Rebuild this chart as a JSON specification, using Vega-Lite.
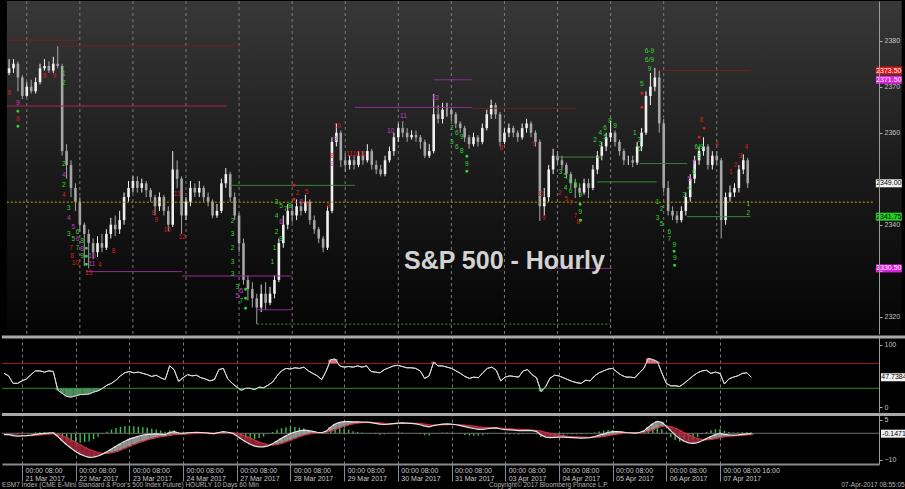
{
"$schema":"https://vega.github.io/schema/vega-lite/v6.json",
"background":"#000000",
"padding":0,
"spacing":0,
"config":{"view":{"stroke":null},"axis":{"labelFont":"Liberation Sans","labelColor":"#c4c4c4","tickColor":"#b0b0b0","domainColor":"#9a9a9a","labelFontSize":7,"titleFont":"Liberation Sans"},"text":{"font":"Liberation Sans"}},
"datasets":{
"px":[
{"t":-8,"o":2373,"h":2376,"l":2372.5,"c":2374,"r":54,"m":-0.5,"s":-0.4,"d":-0.1},
{"t":-6,"o":2374,"h":2376,"l":2373,"c":2375,"r":50,"m":-0.5,"s":-0.45,"d":-0.05},
{"t":-4,"o":2375,"h":2375.5,"l":2369,"c":2372,"r":38,"m":-0.9,"s":-0.55,"d":-0.35},
{"t":-2,"o":2372,"h":2372.5,"l":2367.3,"c":2368,"r":38,"m":-1.1,"s":-0.7,"d":-0.4},
{"t":0,"o":2368,"h":2371,"l":2367.8,"c":2370,"r":42,"m":-1.0,"s":-0.8,"d":-0.2},
{"t":2,"o":2370,"h":2371.5,"l":2368.5,"c":2369,"r":45,"m":-0.9,"s":-0.85,"d":-0.05},
{"t":4,"o":2369,"h":2372,"l":2368.5,"c":2371,"r":52,"m":-0.7,"s":-0.85,"d":0.15},
{"t":6,"o":2371,"h":2375,"l":2370.5,"c":2374,"r":58,"m":-0.4,"s":-0.75,"d":0.35},
{"t":8,"o":2374,"h":2376,"l":2373.5,"c":2374.5,"r":58,"m":-0.2,"s":-0.6,"d":0.4},
{"t":10,"o":2374.5,"h":2375.5,"l":2373,"c":2373.5,"r":56,"m":-0.05,"s":-0.45,"d":0.4},
{"t":12,"o":2373.5,"h":2376.5,"l":2373,"c":2375,"r":58,"m":0.1,"s":-0.3,"d":0.4},
{"t":14,"o":2375,"h":2378.8,"l":2374,"c":2374.5,"r":57,"m":0.2,"s":-0.15,"d":0.35},
{"t":16,"o":2374.5,"h":2375,"l":2355,"c":2356,"r":27,"m":-1.2,"s":-0.4,"d":-0.8},
{"t":18,"o":2356,"h":2357.5,"l":2350,"c":2353,"r":22,"m":-2.8,"s":-0.9,"d":-1.9},
{"t":20,"o":2353,"h":2354,"l":2346,"c":2348,"r":17,"m":-4.3,"s":-1.6,"d":-2.7},
{"t":22,"o":2348,"h":2349,"l":2343,"c":2345,"r":16,"m":-5.6,"s":-2.5,"d":-3.1},
{"t":24,"o":2345,"h":2346,"l":2338.5,"c":2340,"r":18,"m":-6.8,"s":-3.4,"d":-3.4},
{"t":26,"o":2340,"h":2340.5,"l":2331,"c":2338,"r":20,"m":-7.8,"s":-4.3,"d":-3.5},
{"t":28,"o":2338,"h":2339,"l":2330.5,"c":2336,"r":20,"m":-8.5,"s":-5.2,"d":-3.3},
{"t":30,"o":2336,"h":2337,"l":2332.5,"c":2334,"r":21,"m":-9.0,"s":-6.0,"d":-3.0},
{"t":32,"o":2334,"h":2337.5,"l":2333,"c":2336,"r":24,"m":-8.9,"s":-6.7,"d":-2.2},
{"t":34,"o":2336,"h":2338,"l":2334,"c":2335,"r":26,"m":-8.5,"s":-7.2,"d":-1.3},
{"t":36,"o":2335,"h":2339,"l":2334.5,"c":2338,"r":30,"m":-7.8,"s":-7.5,"d":-0.3},
{"t":38,"o":2338,"h":2341.5,"l":2337,"c":2340,"r":35,"m":-6.9,"s":-7.5,"d":0.6},
{"t":40,"o":2340,"h":2342,"l":2337.5,"c":2339,"r":38,"m":-5.9,"s":-7.3,"d":1.4},
{"t":42,"o":2339,"h":2343,"l":2338,"c":2341,"r":43,"m":-4.9,"s":-6.9,"d":2.0},
{"t":44,"o":2341,"h":2347,"l":2340,"c":2346,"r":50,"m":-3.9,"s":-6.3,"d":2.4},
{"t":46,"o":2346,"h":2349.5,"l":2345,"c":2348,"r":55,"m":-3.0,"s":-5.6,"d":2.6},
{"t":48,"o":2348,"h":2350.5,"l":2347,"c":2349.5,"r":57,"m":-2.2,"s":-4.9,"d":2.7},
{"t":50,"o":2349.5,"h":2350.5,"l":2347,"c":2348,"r":55,"m":-1.6,"s":-4.2,"d":2.6},
{"t":52,"o":2348,"h":2350,"l":2347,"c":2349,"r":56,"m":-1.1,"s":-3.6,"d":2.5},
{"t":54,"o":2349,"h":2349.5,"l":2346,"c":2347.5,"r":54,"m":-0.7,"s":-3.0,"d":2.3},
{"t":56,"o":2347.5,"h":2348,"l":2345,"c":2346,"r":52,"m":-0.4,"s":-2.5,"d":2.1},
{"t":58,"o":2346,"h":2346.5,"l":2342,"c":2344,"r":49,"m":-0.3,"s":-2.0,"d":1.7},
{"t":60,"o":2344,"h":2347,"l":2343,"c":2346,"r":51,"m":-0.2,"s":-1.6,"d":1.4},
{"t":62,"o":2346,"h":2346.5,"l":2342,"c":2343,"r":47,"m":-0.3,"s":-1.3,"d":1.0},
{"t":64,"o":2343,"h":2344,"l":2338.6,"c":2340,"r":44,"m":-0.5,"s":-1.1,"d":0.6},
{"t":66,"o":2340,"h":2356,"l":2339.5,"c":2352,"r":66,"m":0.3,"s":-0.8,"d":1.1},
{"t":68,"o":2352,"h":2354,"l":2348,"c":2350,"r":60,"m":0.6,"s":-0.5,"d":1.1},
{"t":70,"o":2350,"h":2350.5,"l":2338,"c":2342,"r":41,"m":0.1,"s":-0.4,"d":0.5},
{"t":72,"o":2342,"h":2346,"l":2341,"c":2345,"r":47,"m":0.0,"s":-0.3,"d":0.3},
{"t":74,"o":2345,"h":2349.5,"l":2344,"c":2348,"r":52,"m":0.2,"s":-0.2,"d":0.4},
{"t":76,"o":2348,"h":2349,"l":2346,"c":2347,"r":50,"m":0.3,"s":-0.1,"d":0.4},
{"t":78,"o":2347,"h":2349.5,"l":2346,"c":2348,"r":51,"m":0.35,"s":0.0,"d":0.35},
{"t":80,"o":2348,"h":2348.5,"l":2345,"c":2346,"r":47,"m":0.3,"s":0.1,"d":0.2},
{"t":82,"o":2346,"h":2347,"l":2344,"c":2345,"r":45,"m":0.2,"s":0.15,"d":0.05},
{"t":84,"o":2345,"h":2345.5,"l":2341.4,"c":2342,"r":42,"m":0.0,"s":0.15,"d":-0.15},
{"t":86,"o":2342,"h":2344.5,"l":2341.5,"c":2343,"r":44,"m":-0.1,"s":0.1,"d":-0.2},
{"t":88,"o":2343,"h":2350,"l":2342.5,"c":2349,"r":60,"m":0.3,"s":0.1,"d":0.2},
{"t":90,"o":2349,"h":2352.3,"l":2348,"c":2351,"r":62,"m":0.6,"s":0.2,"d":0.4},
{"t":92,"o":2351,"h":2351.5,"l":2345,"c":2346,"r":45,"m":0.4,"s":0.3,"d":0.1},
{"t":94,"o":2346,"h":2347,"l":2341,"c":2342,"r":38,"m":0.0,"s":0.3,"d":-0.3},
{"t":96,"o":2342,"h":2342.5,"l":2334,"c":2336,"r":32,"m":-0.9,"s":0.0,"d":-0.9},
{"t":98,"o":2336,"h":2337,"l":2327,"c":2328,"r":27,"m":-2.1,"s":-0.5,"d":-1.6},
{"t":100,"o":2328,"h":2329,"l":2323.5,"c":2326,"r":30,"m":-3.2,"s":-1.1,"d":-2.1},
{"t":102,"o":2326,"h":2327.5,"l":2322,"c":2324,"r":30,"m":-4.1,"s":-1.8,"d":-2.3},
{"t":104,"o":2324,"h":2325,"l":2318.4,"c":2322,"r":28,"m":-4.8,"s":-2.6,"d":-2.2},
{"t":106,"o":2322,"h":2327,"l":2321,"c":2325,"r":32,"m":-5.1,"s":-3.3,"d":-1.8},
{"t":108,"o":2325,"h":2327.5,"l":2321.5,"c":2323,"r":31,"m":-5.1,"s":-3.9,"d":-1.2},
{"t":110,"o":2323,"h":2326.5,"l":2322.5,"c":2325,"r":35,"m":-4.7,"s":-4.3,"d":-0.4},
{"t":112,"o":2325,"h":2329,"l":2324,"c":2328,"r":40,"m":-3.9,"s":-4.4,"d":0.5},
{"t":114,"o":2328,"h":2337,"l":2327.5,"c":2336,"r":50,"m":-2.9,"s":-4.2,"d":1.3},
{"t":116,"o":2336,"h":2342,"l":2335,"c":2340,"r":58,"m":-1.9,"s":-3.8,"d":1.9},
{"t":118,"o":2340,"h":2344.5,"l":2339,"c":2343,"r":62,"m":-0.9,"s":-3.2,"d":2.3},
{"t":120,"o":2343,"h":2344.5,"l":2340.5,"c":2342,"r":61,"m":-0.1,"s":-2.6,"d":2.5},
{"t":122,"o":2342,"h":2345.5,"l":2341,"c":2344,"r":63,"m":0.5,"s":-1.9,"d":2.4},
{"t":124,"o":2344,"h":2345,"l":2342,"c":2343,"r":62,"m":0.9,"s":-1.3,"d":2.2},
{"t":126,"o":2343,"h":2346.5,"l":2342.5,"c":2345,"r":64,"m":1.2,"s":-0.7,"d":1.9},
{"t":128,"o":2345,"h":2345.5,"l":2340,"c":2341,"r":58,"m":1.0,"s":-0.3,"d":1.3},
{"t":130,"o":2341,"h":2342,"l":2338,"c":2339,"r":54,"m":0.7,"s":0.0,"d":0.7},
{"t":132,"o":2339,"h":2339.5,"l":2336,"c":2337,"r":50,"m":0.4,"s":0.2,"d":0.2},
{"t":134,"o":2337,"h":2337.5,"l":2334,"c":2335,"r":44,"m":0.2,"s":0.3,"d":-0.1},
{"t":136,"o":2335,"h":2344,"l":2334.5,"c":2343,"r":58,"m":0.8,"s":0.4,"d":0.4},
{"t":138,"o":2343,"h":2359,"l":2342.5,"c":2358,"r":76,"m":2.3,"s":0.8,"d":1.5},
{"t":140,"o":2358,"h":2362,"l":2357,"c":2360,"r":77,"m":3.5,"s":1.4,"d":2.1},
{"t":142,"o":2360,"h":2360.5,"l":2352.5,"c":2354,"r":66,"m":4.1,"s":2.0,"d":2.1},
{"t":144,"o":2354,"h":2355.5,"l":2351.5,"c":2353,"r":64,"m":4.4,"s":2.6,"d":1.8},
{"t":146,"o":2353,"h":2355,"l":2352,"c":2354,"r":65,"m":4.4,"s":3.1,"d":1.3},
{"t":148,"o":2354,"h":2355,"l":2352,"c":2353,"r":64,"m":4.3,"s":3.5,"d":0.8},
{"t":150,"o":2353,"h":2356,"l":2352.5,"c":2355,"r":66,"m":4.3,"s":3.8,"d":0.5},
{"t":152,"o":2355,"h":2356,"l":2353,"c":2354,"r":64,"m":4.2,"s":4.0,"d":0.2},
{"t":154,"o":2354,"h":2357.5,"l":2353.5,"c":2356,"r":66,"m":4.2,"s":4.1,"d":0.1},
{"t":156,"o":2356,"h":2356.5,"l":2352,"c":2353,"r":57,"m":4.0,"s":4.1,"d":-0.1},
{"t":158,"o":2353,"h":2354,"l":2351,"c":2352,"r":56,"m":3.7,"s":4.0,"d":-0.3},
{"t":160,"o":2352,"h":2353,"l":2350.5,"c":2351,"r":55,"m":3.4,"s":3.9,"d":-0.5},
{"t":162,"o":2351,"h":2355,"l":2350.5,"c":2354,"r":60,"m":3.3,"s":3.7,"d":-0.4},
{"t":164,"o":2354,"h":2357,"l":2353.5,"c":2356,"r":63,"m":3.4,"s":3.6,"d":-0.2},
{"t":166,"o":2356,"h":2360,"l":2355,"c":2359,"r":66,"m":3.6,"s":3.6,"d":0},
{"t":168,"o":2359,"h":2362,"l":2358,"c":2361,"r":67,"m":3.8,"s":3.6,"d":0.2},
{"t":170,"o":2361,"h":2362.5,"l":2359,"c":2360,"r":65,"m":3.9,"s":3.7,"d":0.2},
{"t":172,"o":2360,"h":2361,"l":2358,"c":2359,"r":63,"m":3.8,"s":3.7,"d":0.1},
{"t":174,"o":2359,"h":2360.5,"l":2358.5,"c":2359.5,"r":63,"m":3.7,"s":3.7,"d":0},
{"t":176,"o":2359.5,"h":2360.5,"l":2358,"c":2359,"r":62,"m":3.5,"s":3.7,"d":-0.2},
{"t":178,"o":2359,"h":2359.5,"l":2356.5,"c":2358,"r":58,"m":3.2,"s":3.6,"d":-0.4},
{"t":180,"o":2358,"h":2358.5,"l":2354.5,"c":2355,"r":46,"m":2.7,"s":3.4,"d":-0.7},
{"t":182,"o":2355,"h":2357.5,"l":2354.5,"c":2356,"r":50,"m":2.4,"s":3.2,"d":-0.8},
{"t":184,"o":2356,"h":2368.4,"l":2355.5,"c":2364,"r":72,"m":2.9,"s":3.1,"d":-0.2},
{"t":186,"o":2364,"h":2366,"l":2362,"c":2363,"r":66,"m":3.2,"s":3.1,"d":0.1},
{"t":188,"o":2363,"h":2366.5,"l":2362,"c":2365,"r":66,"m":3.4,"s":3.1,"d":0.3},
{"t":190,"o":2365,"h":2366.5,"l":2363.5,"c":2365,"r":64,"m":3.5,"s":3.2,"d":0.3},
{"t":192,"o":2365,"h":2365.5,"l":2362.5,"c":2364,"r":62,"m":3.4,"s":3.3,"d":0.1},
{"t":194,"o":2364,"h":2364.5,"l":2361,"c":2362,"r":58,"m":3.2,"s":3.3,"d":-0.1},
{"t":196,"o":2362,"h":2362.5,"l":2360,"c":2361,"r":54,"m":2.9,"s":3.2,"d":-0.3},
{"t":198,"o":2361,"h":2361.5,"l":2358,"c":2359,"r":49,"m":2.5,"s":3.1,"d":-0.6},
{"t":200,"o":2359,"h":2359.5,"l":2356.5,"c":2357.5,"r":46,"m":2.1,"s":2.9,"d":-0.8},
{"t":202,"o":2357.5,"h":2360,"l":2357,"c":2359,"r":48,"m":1.8,"s":2.7,"d":-0.9},
{"t":204,"o":2359,"h":2359.5,"l":2357,"c":2358,"r":47,"m":1.5,"s":2.4,"d":-0.9},
{"t":206,"o":2358,"h":2362,"l":2357.5,"c":2361,"r":55,"m":1.5,"s":2.2,"d":-0.7},
{"t":208,"o":2361,"h":2365,"l":2360.5,"c":2364,"r":62,"m":1.7,"s":2.1,"d":-0.4},
{"t":210,"o":2364,"h":2367.2,"l":2363,"c":2366,"r":64,"m":1.9,"s":2.0,"d":-0.1},
{"t":212,"o":2366,"h":2366.5,"l":2363,"c":2364,"r":59,"m":2.0,"s":2.0,"d":0},
{"t":214,"o":2364,"h":2364.5,"l":2357,"c":2358,"r":42,"m":1.6,"s":1.9,"d":-0.3},
{"t":216,"o":2358,"h":2361,"l":2357.5,"c":2360,"r":48,"m":1.4,"s":1.8,"d":-0.4},
{"t":218,"o":2360,"h":2362,"l":2359,"c":2361,"r":50,"m":1.3,"s":1.7,"d":-0.4},
{"t":220,"o":2361,"h":2361.5,"l":2359,"c":2360,"r":49,"m":1.2,"s":1.6,"d":-0.4},
{"t":222,"o":2360,"h":2360.5,"l":2358,"c":2359,"r":48,"m":1.0,"s":1.5,"d":-0.5},
{"t":224,"o":2359,"h":2362,"l":2358.5,"c":2361,"r":58,"m":1.0,"s":1.4,"d":-0.4},
{"t":226,"o":2361,"h":2363,"l":2360,"c":2362,"r":60,"m":1.1,"s":1.3,"d":-0.2},
{"t":228,"o":2362,"h":2362.5,"l":2359,"c":2360,"r":52,"m":1.0,"s":1.2,"d":-0.2},
{"t":230,"o":2360,"h":2360.5,"l":2357,"c":2358,"r":47,"m":0.7,"s":1.1,"d":-0.4},
{"t":232,"o":2358,"h":2358.5,"l":2340.8,"c":2344,"r":25,"m":-0.6,"s":0.8,"d":-1.4},
{"t":234,"o":2344,"h":2348,"l":2342,"c":2346,"r":32,"m":-1.4,"s":0.4,"d":-1.8},
{"t":236,"o":2346,"h":2353,"l":2345,"c":2352,"r":46,"m":-1.6,"s":0.0,"d":-1.6},
{"t":238,"o":2352,"h":2356.5,"l":2351,"c":2355,"r":51,"m":-1.5,"s":-0.4,"d":-1.1},
{"t":240,"o":2355,"h":2356,"l":2353,"c":2354,"r":50,"m":-1.4,"s":-0.7,"d":-0.7},
{"t":242,"o":2354,"h":2355,"l":2352,"c":2353,"r":47,"m":-1.4,"s":-0.9,"d":-0.5},
{"t":244,"o":2353,"h":2353.5,"l":2350,"c":2351,"r":44,"m":-1.5,"s":-1.1,"d":-0.4},
{"t":246,"o":2351,"h":2351.5,"l":2348,"c":2349,"r":41,"m":-1.6,"s":-1.2,"d":-0.4},
{"t":248,"o":2349,"h":2350,"l":2345.8,"c":2348,"r":39,"m":-1.7,"s":-1.3,"d":-0.4},
{"t":250,"o":2348,"h":2349,"l":2346,"c":2347,"r":38,"m":-1.8,"s":-1.4,"d":-0.4},
{"t":252,"o":2347,"h":2350,"l":2346.5,"c":2349,"r":43,"m":-1.7,"s":-1.5,"d":-0.2},
{"t":254,"o":2349,"h":2350,"l":2345.8,"c":2348,"r":42,"m":-1.6,"s":-1.5,"d":-0.1},
{"t":256,"o":2348,"h":2353,"l":2347.5,"c":2352,"r":50,"m":-1.2,"s":-1.5,"d":0.3},
{"t":258,"o":2352,"h":2356,"l":2351,"c":2355,"r":55,"m":-0.7,"s":-1.4,"d":0.7},
{"t":260,"o":2355,"h":2358,"l":2354,"c":2357,"r":58,"m":-0.2,"s":-1.2,"d":1.0},
{"t":262,"o":2357,"h":2360,"l":2356,"c":2359,"r":61,"m":0.3,"s":-0.9,"d":1.2},
{"t":264,"o":2359,"h":2362.5,"l":2358,"c":2360,"r":62,"m":0.6,"s":-0.6,"d":1.2},
{"t":266,"o":2360,"h":2360.5,"l":2357,"c":2358,"r":56,"m":0.6,"s":-0.3,"d":0.9},
{"t":268,"o":2358,"h":2358.5,"l":2355,"c":2356,"r":51,"m":0.5,"s":-0.1,"d":0.6},
{"t":270,"o":2356,"h":2356.5,"l":2353,"c":2354,"r":48,"m":0.3,"s":0.1,"d":0.2},
{"t":272,"o":2354,"h":2355,"l":2353,"c":2354,"r":48,"m":0.2,"s":0.2,"d":0},
{"t":274,"o":2354,"h":2355,"l":2352.5,"c":2353.5,"r":47,"m":0.1,"s":0.2,"d":-0.1},
{"t":276,"o":2353.5,"h":2358,"l":2353,"c":2357,"r":55,"m":0.3,"s":0.2,"d":0.1},
{"t":278,"o":2357,"h":2361,"l":2356,"c":2360,"r":62,"m":0.9,"s":0.3,"d":0.6},
{"t":280,"o":2360,"h":2369,"l":2359.5,"c":2368,"r":78,"m":2.3,"s":0.7,"d":1.6},
{"t":282,"o":2368,"h":2373,"l":2366,"c":2370,"r":76,"m":3.6,"s":1.3,"d":2.3},
{"t":284,"o":2370,"h":2374.1,"l":2369,"c":2372,"r":73,"m":4.5,"s":2.0,"d":2.5},
{"t":286,"o":2372,"h":2373.5,"l":2360,"c":2362,"r":55,"m":4.1,"s":2.6,"d":1.5},
{"t":288,"o":2362,"h":2363,"l":2347,"c":2348,"r":38,"m":2.7,"s":2.8,"d":-0.1},
{"t":290,"o":2348,"h":2349.5,"l":2342,"c":2343,"r":34,"m":1.0,"s":2.5,"d":-1.5},
{"t":292,"o":2343,"h":2344,"l":2341,"c":2342,"r":34,"m":-0.6,"s":1.9,"d":-2.5},
{"t":294,"o":2342,"h":2343,"l":2340.3,"c":2341,"r":33,"m":-2.0,"s":1.1,"d":-3.1},
{"t":296,"o":2341,"h":2344,"l":2340.5,"c":2343,"r":38,"m":-3.0,"s":0.2,"d":-3.2},
{"t":298,"o":2343,"h":2347,"l":2342,"c":2346,"r":44,"m":-3.6,"s":-0.6,"d":-3.0},
{"t":300,"o":2346,"h":2351,"l":2345,"c":2350,"r":50,"m":-3.8,"s":-1.4,"d":-2.4},
{"t":302,"o":2350,"h":2355,"l":2349,"c":2354,"r":55,"m":-3.5,"s":-2.0,"d":-1.5},
{"t":304,"o":2354,"h":2357,"l":2353,"c":2356,"r":58,"m":-2.8,"s":-2.4,"d":-0.4},
{"t":306,"o":2356,"h":2359,"l":2355,"c":2357,"r":59,"m":-2.0,"s":-2.5,"d":0.5},
{"t":308,"o":2357,"h":2357.5,"l":2352,"c":2353,"r":54,"m":-1.2,"s":-2.3,"d":1.1},
{"t":310,"o":2353,"h":2356,"l":2352,"c":2355,"r":56,"m":-0.5,"s":-2.0,"d":1.5},
{"t":312,"o":2355,"h":2356,"l":2353,"c":2354,"r":54,"m":0.0,"s":-1.6,"d":1.6},
{"t":314,"o":2354,"h":2354.5,"l":2337,"c":2341,"r":37,"m":-0.4,"s":-1.3,"d":0.9},
{"t":316,"o":2341,"h":2347,"l":2340,"c":2346,"r":45,"m":-0.6,"s":-1.1,"d":0.5},
{"t":318,"o":2346,"h":2348.5,"l":2345,"c":2347,"r":48,"m":-0.7,"s":-1.0,"d":0.3},
{"t":320,"o":2347,"h":2349,"l":2346,"c":2348,"r":50,"m":-0.6,"s":-0.9,"d":0.3},
{"t":322,"o":2348,"h":2353,"l":2347,"c":2352,"r":54,"m":-0.4,"s":-0.8,"d":0.4},
{"t":324,"o":2352,"h":2355.3,"l":2351,"c":2354,"r":55,"m":-0.2,"s":-0.6,"d":0.4},
{"t":326,"o":2354,"h":2354.5,"l":2348,"c":2349,"r":47.7,"m":-0.15,"s":-0.5,"d":0.35}
],
"lv":[
{"t1":-9,"t2":23.7,"p":2380.1,"k":"dkred","st":"solid"},
{"t1":14.8,"t2":97,"p":2378.85,"k":"dkred","st":"solid"},
{"t1":-9,"t2":90.3,"p":2365.8,"k":"red","st":"solid"},
{"t1":92,"t2":148.4,"p":2348.55,"k":"green","st":"solid"},
{"t1":26.8,"t2":70.2,"p":2329.8,"k":"magenta","st":"solid"},
{"t1":70.2,"t2":119.8,"p":2328.85,"k":"magenta","st":"solid"},
{"t1":103.7,"t2":119.8,"p":2321.5,"k":"magenta","st":"solid"},
{"t1":104.2,"t2":263.7,"p":2318.4,"k":"green","st":"dot"},
{"t1":-9,"t2":383,"p":2344.9,"k":"yellow","st":"dot"},
{"t1":148.4,"t2":201.2,"p":2365.5,"k":"magenta","st":"solid"},
{"t1":201.2,"t2":248.1,"p":2365.3,"k":"dkred","st":"solid"},
{"t1":184.2,"t2":201.2,"p":2371.5,"k":"magenta","st":"solid"},
{"t1":285.2,"t2":327.2,"p":2373.5,"k":"dkred","st":"solid"},
{"t1":239.2,"t2":260.2,"p":2354.7,"k":"green","st":"solid"},
{"t1":277.2,"t2":298.6,"p":2353.3,"k":"green","st":"solid"},
{"t1":257.9,"t2":284.8,"p":2349.3,"k":"green","st":"solid"},
{"t1":298.6,"t2":327.2,"p":2341.75,"k":"green","st":"solid"},
{"t1":239.2,"t2":264.6,"p":2330.5,"k":"magenta","st":"solid"}
],
"td":[
{"t":-8,"p":2368.6,"x":"9","k":"r"},{"t":-4,"p":2366.4,"x":"9","k":"m"},{"t":-4,"p":2364.7,"x":"●","k":"g"},{"t":-4,"p":2363,"x":"8","k":"r"},{"t":-4,"p":2361.4,"x":"●","k":"g"},
{"t":8,"p":2372.3,"x":"8","k":"r"},{"t":12.5,"p":2372.3,"x":"9","k":"r"},{"t":16.8,"p":2372.8,"x":"1","k":"g"},{"t":16.8,"p":2370.8,"x":"2","k":"g"},
{"t":16.8,"p":2353.2,"x":"2","k":"g"},{"t":16.8,"p":2350.8,"x":"4","k":"m"},{"t":16.8,"p":2348.6,"x":"2","k":"g"},{"t":16.8,"p":2346.5,"x":"4","k":"r"},
{"t":19,"p":2343.6,"x":"3","k":"g"},{"t":19,"p":2341.5,"x":"4","k":"m"},{"t":21,"p":2339.5,"x":"5","k":"m"},{"t":19,"p":2338,"x":"3","k":"g"},{"t":21,"p":2337,"x":"5","k":"g"},
{"t":23,"p":2338.5,"x":"6","k":"g"},{"t":23,"p":2336.9,"x":"6","k":"m"},{"t":20,"p":2335,"x":"7","k":"r"},{"t":23,"p":2335,"x":"7","k":"g"},{"t":25,"p":2336.5,"x":"8","k":"g"},
{"t":25,"p":2334.8,"x":"8","k":"m"},{"t":20.5,"p":2333.2,"x":"8","k":"r"},{"t":25,"p":2333.3,"x":"9","k":"g"},{"t":22,"p":2331.6,"x":"10","k":"r"},
{"t":27,"p":2335,"x":"●","k":"g"},{"t":27,"p":2333.2,"x":"●","k":"g"},{"t":27,"p":2331.4,"x":"●","k":"g"},{"t":29.5,"p":2333.3,"x":"10","k":"m"},{"t":29.5,"p":2331.5,"x":"11","k":"m"},
{"t":28,"p":2329.4,"x":"13","k":"r"},{"t":33,"p":2331.2,"x":"4","k":"r"},{"t":39.3,"p":2334.3,"x":"8","k":"r"},{"t":57.2,"p":2342.5,"x":"8","k":"r"},{"t":58.6,"p":2341,"x":"9","k":"r"},
{"t":63.5,"p":2338.9,"x":"10","k":"r"},{"t":68,"p":2346.7,"x":"11","k":"r"},{"t":70.2,"p":2337.3,"x":"12","k":"r"},
{"t":93,"p":2340.8,"x":"2","k":"g"},{"t":93,"p":2338,"x":"3","k":"g"},{"t":93,"p":2335,"x":"2","k":"g"},{"t":93,"p":2332,"x":"3","k":"g"},{"t":93,"p":2329.3,"x":"3","k":"g"},
{"t":95.2,"p":2326.5,"x":"3","k":"g"},{"t":97,"p":2325.5,"x":"5","k":"m"},{"t":99,"p":2326,"x":"●","k":"g"},{"t":95.2,"p":2324.5,"x":"5","k":"m"},{"t":97,"p":2323.5,"x":"7","k":"g"},
{"t":99,"p":2324,"x":"●","k":"g"},{"t":99,"p":2322,"x":"●","k":"g"},
{"t":113,"p":2345,"x":"3","k":"g"},{"t":115,"p":2344,"x":"5","k":"g"},{"t":117,"p":2343.5,"x":"7","k":"g"},{"t":119,"p":2344,"x":"8","k":"g"},{"t":113,"p":2342,"x":"4","k":"g"},
{"t":115,"p":2340.5,"x":"6","k":"m"},{"t":113,"p":2338.5,"x":"2","k":"g"},{"t":112,"p":2335,"x":"1","k":"g"},{"t":111,"p":2332,"x":"1","k":"g"},{"t":115,"p":2337,"x":"9","k":"g"},
{"t":120.7,"p":2348.6,"x":"●","k":"r"},{"t":120.7,"p":2345.6,"x":"●","k":"r"},{"t":122.5,"p":2347,"x":"2","k":"r"},{"t":126.5,"p":2347.2,"x":"5","k":"r"},{"t":124,"p":2345,"x":"8","k":"m"},
{"t":127,"p":2344.4,"x":"9","k":"r"},{"t":136.3,"p":2344,"x":"9","k":"r"},{"t":138.1,"p":2353.2,"x":"9","k":"m"},{"t":138.1,"p":2354.9,"x":"8","k":"r"},{"t":139.5,"p":2358.6,"x":"9","k":"m"},
{"t":140.4,"p":2361.5,"x":"10","k":"r"},{"t":149,"p":2355.4,"x":"111011","k":"r"},{"t":164.5,"p":2360.4,"x":"10","k":"m"},{"t":170.3,"p":2363.6,"x":"11","k":"m"},{"t":184.6,"p":2367.5,"x":"13","k":"m"},
{"t":192.2,"p":2361,"x":"2","k":"g"},{"t":194.5,"p":2360,"x":"6","k":"g"},{"t":196.7,"p":2359,"x":"9","k":"g"},{"t":192.2,"p":2358,"x":"3","k":"g"},{"t":194.5,"p":2357,"x":"6","k":"g"},
{"t":196.7,"p":2356,"x":"8","k":"g"},{"t":199,"p":2355,"x":"●","k":"g"},{"t":199,"p":2353.3,"x":"9","k":"g"},{"t":199,"p":2351.7,"x":"●","k":"g"},
{"t":214.6,"p":2356.7,"x":"8","k":"r"},{"t":229.3,"p":2357.5,"x":"9","k":"r"},{"t":232.4,"p":2346.7,"x":"8","k":"r"},{"t":233.8,"p":2341.5,"x":"9","k":"r"},
{"t":241,"p":2347,"x":"2","k":"r"},{"t":244,"p":2345.5,"x":"5","k":"r"},{"t":246,"p":2344.8,"x":"7","k":"r"},{"t":248,"p":2342,"x":"7","k":"r"},{"t":249.4,"p":2340.5,"x":"8","k":"r"},
{"t":241.4,"p":2351.5,"x":"3","k":"g"},{"t":243.6,"p":2350.5,"x":"5","k":"g"},{"t":245.9,"p":2349.5,"x":"6","k":"g"},{"t":248.1,"p":2348.6,"x":"8","k":"g"},{"t":243.6,"p":2348,"x":"4","k":"g"},
{"t":245.9,"p":2347.3,"x":"6","k":"g"},{"t":250.3,"p":2346.5,"x":"9","k":"g"},{"t":250.3,"p":2344.5,"x":"●","k":"g"},{"t":250.3,"p":2342.7,"x":"9","k":"g"},{"t":250.5,"p":2341,"x":"●","k":"g"},
{"t":257,"p":2358.5,"x":"2","k":"g"},{"t":259.3,"p":2360,"x":"4","k":"g"},{"t":261.5,"p":2361,"x":"6","k":"g"},{"t":263.7,"p":2362.5,"x":"8","k":"g"},{"t":266,"p":2361.5,"x":"9","k":"g"},
{"t":259.3,"p":2357.5,"x":"3","k":"g"},{"t":261.5,"p":2359,"x":"5","k":"g"},{"t":275,"p":2360,"x":"1","k":"g"},{"t":277,"p":2358.5,"x":"3","k":"g"},{"t":277,"p":2356.5,"x":"5","k":"g"},
{"t":278.1,"p":2370.5,"x":"5","k":"g"},{"t":278.1,"p":2368.6,"x":"●","k":"r"},{"t":278.1,"p":2365.6,"x":"●","k":"r"},{"t":281.6,"p":2377.8,"x":"6-9","k":"g"},{"t":281.6,"p":2375.8,"x":"6/9","k":"g"},
{"t":281.6,"p":2373.8,"x":"9","k":"g"},{"t":285.2,"p":2345,"x":"1","k":"g"},{"t":287,"p":2343.5,"x":"2","k":"g"},{"t":285.2,"p":2341.5,"x":"3","k":"g"},{"t":287,"p":2340.2,"x":"5","k":"g"},
{"t":290.6,"p":2338.5,"x":"6","k":"g"},{"t":290.6,"p":2337,"x":"7","k":"g"},{"t":292.8,"p":2335.5,"x":"9","k":"g"},{"t":292.8,"p":2334.2,"x":"●","k":"g"},{"t":293,"p":2332.8,"x":"9","k":"g"},
{"t":293,"p":2331.3,"x":"●","k":"g"},{"t":297.3,"p":2346.5,"x":"3","k":"g"},{"t":299.5,"p":2348,"x":"4","k":"g"},{"t":299.5,"p":2350,"x":"5","k":"m"},{"t":301.7,"p":2351.5,"x":"6","k":"g"},
{"t":301.7,"p":2353.5,"x":"7","k":"m"},{"t":304,"p":2355,"x":"9","k":"g"},{"t":304,"p":2357,"x":"6/9","k":"g"},{"t":304,"p":2359,"x":"●","k":"r"},{"t":306.2,"p":2361,"x":"●","k":"r"},
{"t":305,"p":2362.8,"x":"8","k":"r"},{"t":312,"p":2357.5,"x":"4","k":"r"},{"t":318.3,"p":2351.5,"x":"1","k":"r"},{"t":320.5,"p":2353,"x":"2","k":"r"},{"t":322.7,"p":2355,"x":"3","k":"r"},
{"t":325.4,"p":2357,"x":"4","k":"r"},{"t":326.3,"p":2344.5,"x":"1","k":"g"},{"t":326.3,"p":2342.5,"x":"2","k":"g"}
],
"tags":[
{"p":2373.5,"txt":"2373.50","k":"red"},
{"p":2371.5,"txt":"2371.50","k":"magenta"},
{"p":2349.0,"txt":"2349.00","k":"white"},
{"p":2341.75,"txt":"2341.75","k":"green"},
{"p":2330.5,"txt":"2330.50","k":"magenta"}
],
"ttl":[{"t":216,"p":2330.4,"txt":"S&P 500 - Hourly"}],
"bg":[{"a":-9,"b":395.6,"top":2388.63,"bot":2316.24}],
"days":[{"t":0},{"t":24},{"t":48},{"t":72},{"t":96},{"t":120},{"t":144},{"t":168},{"t":192},{"t":216},{"t":240},{"t":264},{"t":288},{"t":312}],
"rl":[{"v":70,"k":"ob"},{"v":30,"k":"os"}],
"rtag":[{"v":47.7384,"txt":"47.7384","a":389.8}],
"mtag":[{"v":-0.1471,"txt":"-0.1471","a":389.8}],
"sepr":[{"a":-9,"b":395.6,"v":112.4}],
"sepm":[{"a":-9,"b":395.6,"v":7.04}],
"zero":[{"v":0}],
"f1":[{"t":-8.9,"txt":"ESM7 Index (CME E-Mini Standard & Poor's 500 Index Future) HOURLY 10 Days 60 Min"}],
"f2":[{"t":208.8,"txt":"Copyright© 2017 Bloomberg Finance L.P."}],
"f3":[{"t":394.6,"txt":"07-Apr-2017 08:55:05"}]
},
"vconcat":[
{
"width":877,"height":333,
"view":{"stroke":null},
"resolve":{"scale":{"color":"independent"}},
"layer":[
{"data":{"name":"bg"},"mark":{"type":"rect","clip":false,"color":{"gradient":"linear","x1":0,"y1":0,"x2":0,"y2":1,"stops":[{"offset":0,"color":"#383838"},{"offset":0.5,"color":"#1b1b1b"},{"offset":1,"color":"#040404"}]}},
"encoding":{"x":{"field":"a","type":"quantitative","scale":{"domain":[-8.94,383.1],"nice":false,"zero":false},"axis":null},"x2":{"field":"b"},
"y":{"field":"top","type":"quantitative","scale":{"domain":[2316.24,2388.63],"nice":false,"zero":false},"axis":{"orient":"right","zindex":1,"values":[2320,2325,2330,2335,2340,2345,2350,2355,2360,2365,2370,2375,2380,2385],"labelExpr":"datum.value % 10 === 0 && datum.value != 2330 && datum.value != 2350 ? datum.label : ''","format":"d","tickSize":3,"labelPadding":2,"grid":false,"title":null,"domainColor":"#9a9a9a"}},"y2":{"field":"bot"}}},
{"data":{"name":"days"},"mark":{"type":"rule","strokeDash":[3,3],"color":"#7a7a7a","strokeWidth":1},
"encoding":{"x":{"field":"t","type":"quantitative"}}},
{"data":{"name":"px"},"mark":{"type":"rule","strokeWidth":1},
"encoding":{"x":{"field":"t","type":"quantitative"},"y":{"field":"l","type":"quantitative"},"y2":{"field":"h"},
"color":{"condition":{"test":"datum.c >= datum.o","value":"#f0f0f0"},"value":"#a6a6a6"}}},
{"data":{"name":"px"},"mark":{"type":"bar","width":2.6},
"encoding":{"x":{"field":"t","type":"quantitative"},"y":{"field":"o","type":"quantitative"},"y2":{"field":"c"},
"color":{"condition":{"test":"datum.c >= datum.o","value":"#f0f0f0"},"value":"#a6a6a6"}}},
{"data":{"name":"lv"},"mark":{"type":"rule","strokeWidth":1},
"encoding":{"x":{"field":"t1","type":"quantitative"},"x2":{"field":"t2"},"y":{"field":"p","type":"quantitative"},
"color":{"field":"k","type":"nominal","scale":{"domain":["dkred","red","magenta","green","yellow"],"range":["#7e2026","#b8284a","#9b2d9b","#3f8f3f","#c8a400"]},"legend":null},
"strokeDash":{"field":"st","type":"nominal","scale":{"domain":["solid","dot"],"range":[[1,0],[2,2]]},"legend":null}}},
{"data":{"name":"td"},"mark":{"type":"text","fontSize":6.5,"align":"center","baseline":"middle"},
"encoding":{"x":{"field":"t","type":"quantitative"},"y":{"field":"p","type":"quantitative"},"text":{"field":"x","type":"nominal"},
"color":{"field":"k","type":"nominal","scale":{"domain":["g","r","m"],"range":["#33d633","#d42020","#c43cc4"]},"legend":null}}},
{"data":{"name":"ttl"},"mark":{"type":"text","fontSize":25,"fontWeight":"bold","font":"Liberation Sans","color":"#d2d2d2","align":"center","baseline":"alphabetic"},
"encoding":{"x":{"field":"t","type":"quantitative"},"y":{"field":"p","type":"quantitative"},"text":{"field":"txt","type":"nominal"}}},
{"data":{"name":"tags"},"mark":{"type":"tick","orient":"horizontal","size":26,"thickness":8,"opacity":1},
"encoding":{"x":{"datum":389.8,"type":"quantitative"},"y":{"field":"p","type":"quantitative"},
"color":{"field":"k","type":"nominal","scale":{"domain":["red","magenta","white","green"],"range":["#e01818","#e020e0","#f2f2f2","#22d022"]},"legend":null}}},
{"data":{"name":"tags"},"mark":{"type":"text","fontSize":7,"align":"center","baseline":"middle"},
"encoding":{"x":{"datum":389.8,"type":"quantitative"},"y":{"field":"p","type":"quantitative"},"text":{"field":"txt","type":"nominal"},
"color":{"condition":{"test":"datum.k === 'white' || datum.k === 'green'","value":"#000000"},"value":"#ffffff"}}}
]
},
{
"width":877,"height":76,
"view":{"stroke":null},
"layer":[
{"data":{"name":"px"},"mark":{"type":"line","strokeWidth":1,"color":"#d8d8d8"},
"encoding":{"x":{"field":"t","type":"quantitative","scale":{"domain":[-8.94,383.1],"nice":false,"zero":false},"axis":{"values":[0,24,48,72,96,120,144,168,192,216,240,264,288,312],"grid":true,"gridDash":[3,3],"gridColor":"#7a7a7a","labels":false,"ticks":false,"domain":false,"title":null}},
"y":{"field":"r","type":"quantitative","scale":{"domain":[-8,114],"nice":false,"zero":false},"axis":{"orient":"right","values":[0,25,50,75,100],"labelExpr":"datum.value == 0 || datum.value == 100 ? datum.label : ''","tickSize":3,"labelPadding":2,"grid":false,"title":null}}}},
{"data":{"name":"rl"},"mark":{"type":"rule","strokeWidth":1},
"encoding":{"y":{"field":"v","type":"quantitative"},
"color":{"field":"k","type":"nominal","scale":{"domain":["ob","os"],"range":["#a01c1c","#2a8f2a"]},"legend":null}}},
{"data":{"name":"px"},"transform":[{"filter":"datum.r < 30"}],"mark":{"type":"rule","strokeWidth":4.6,"color":"#4e8f5e"},
"encoding":{"x":{"field":"t","type":"quantitative"},"y":{"field":"r","type":"quantitative"},"y2":{"datum":30}}},
{"data":{"name":"px"},"transform":[{"filter":"datum.r > 70"}],"mark":{"type":"rule","strokeWidth":4.6,"color":"#c87a86"},
"encoding":{"x":{"field":"t","type":"quantitative"},"y":{"field":"r","type":"quantitative"},"y2":{"datum":70}}},
{"data":{"name":"px"},"mark":{"type":"line","strokeWidth":1,"color":"#d8d8d8"},
"encoding":{"x":{"field":"t","type":"quantitative"},"y":{"field":"r","type":"quantitative"}}},
{"data":{"name":"sepr"},"mark":{"type":"rule","strokeWidth":3,"color":"#a8a8a8","clip":false},
"encoding":{"x":{"field":"a","type":"quantitative"},"x2":{"field":"b"},"y":{"field":"v","type":"quantitative"}}},
{"data":{"name":"rtag"},"mark":{"type":"tick","orient":"horizontal","size":26,"thickness":8,"color":"#f2f2f2","opacity":1},
"encoding":{"x":{"field":"a","type":"quantitative"},"y":{"field":"v","type":"quantitative"}}},
{"data":{"name":"rtag"},"mark":{"type":"text","fontSize":7,"color":"#000000","align":"center","baseline":"middle"},
"encoding":{"x":{"field":"a","type":"quantitative"},"y":{"field":"v","type":"quantitative"},"text":{"field":"txt","type":"nominal"}}}
]
},
{
"width":877,"height":51,
"view":{"stroke":null},
"layer":[
{"data":{"name":"px"},"mark":{"type":"rule","strokeWidth":1.4,"color":"#3fbf4a"},
"encoding":{"x":{"field":"t","type":"quantitative","scale":{"domain":[-8.94,383.1],"nice":false,"zero":false},
"axis":{"orient":"bottom","values":[0,24,48,72,96,120,144,168,192,216,240,264,288,312],"grid":true,"gridDash":[3,3],"gridColor":"#7a7a7a","ticks":true,"tickSize":17,"tickColor":"#8a8a8a","labelOffset":3,"labelPadding":-15,"labelAlign":"left","labelBaseline":"top","labelFontSize":7,"labelLineHeight":8,"labelColor":"#c8c8c8","labelFlush":false,"labelOverlap":false,"labelBound":false,"domain":true,"domainWidth":2,"domainColor":"#8a8a8a","title":null,
"labelExpr":"[datum.value == 312 ? '00:00 08:00 16:00' : '00:00 08:00', ['21 Mar 2017','22 Mar 2017','23 Mar 2017','24 Mar 2017','27 Mar 2017','28 Mar 2017','29 Mar 2017','30 Mar 2017','31 Mar 2017','03 Apr 2017','04 Apr 2017','05 Apr 2017','06 Apr 2017','07 Apr 2017'][round(datum.value/24)]]"}},
"y":{"field":"d","type":"quantitative","scale":{"domain":[-11.5,7.6],"nice":false,"zero":false},"axis":{"orient":"right","values":[5,0,-5,-10],"labelExpr":"datum.value == 0 ? '' : datum.label","tickSize":3,"labelPadding":2,"grid":false,"title":null}},"y2":{"datum":0}}},
{"data":{"name":"zero"},"mark":{"type":"rule","strokeWidth":1,"color":"#6e6e6e"},
"encoding":{"y":{"field":"v","type":"quantitative"}}},
{"data":{"name":"px"},"mark":{"type":"rule","strokeWidth":4.6,"opacity":0.85},
"encoding":{"x":{"field":"t","type":"quantitative"},"y":{"field":"m","type":"quantitative"},"y2":{"field":"s"},
"color":{"condition":{"test":"datum.d >= 0","value":"#a8a8a8"},"value":"#a82a40"}}},
{"data":{"name":"px"},"mark":{"type":"line","strokeWidth":1.2,"color":"#d0303f"},
"encoding":{"x":{"field":"t","type":"quantitative"},"y":{"field":"s","type":"quantitative"}}},
{"data":{"name":"px"},"mark":{"type":"line","strokeWidth":1.2,"color":"#e6e6e6"},
"encoding":{"x":{"field":"t","type":"quantitative"},"y":{"field":"m","type":"quantitative"}}},
{"data":{"name":"sepm"},"mark":{"type":"rule","strokeWidth":3,"color":"#a8a8a8","clip":false},
"encoding":{"x":{"field":"a","type":"quantitative"},"x2":{"field":"b"},"y":{"field":"v","type":"quantitative"}}},
{"data":{"name":"mtag"},"mark":{"type":"tick","orient":"horizontal","size":26,"thickness":8,"color":"#f2f2f2","opacity":1},
"encoding":{"x":{"field":"a","type":"quantitative"},"y":{"field":"v","type":"quantitative"}}},
{"data":{"name":"mtag"},"mark":{"type":"text","fontSize":7,"color":"#000000","align":"center","baseline":"middle"},
"encoding":{"x":{"field":"a","type":"quantitative"},"y":{"field":"v","type":"quantitative"},"text":{"field":"txt","type":"nominal"}}}
]
},
{
"width":877,"height":6,
"view":{"stroke":null},
"layer":[
{"data":{"name":"f1"},"mark":{"type":"text","fontSize":6.5,"color":"#b4b4b4","align":"left","baseline":"middle"},
"encoding":{"x":{"field":"t","type":"quantitative","scale":{"domain":[-8.94,383.1],"nice":false,"zero":false},"axis":null},"text":{"field":"txt","type":"nominal"}}},
{"data":{"name":"f2"},"mark":{"type":"text","fontSize":6.5,"color":"#b4b4b4","align":"left","baseline":"middle"},
"encoding":{"x":{"field":"t","type":"quantitative"},"text":{"field":"txt","type":"nominal"}}},
{"data":{"name":"f3"},"mark":{"type":"text","fontSize":6.5,"color":"#b4b4b4","align":"right","baseline":"middle"},
"encoding":{"x":{"field":"t","type":"quantitative"},"text":{"field":"txt","type":"nominal"}}}
]
}
]
}
